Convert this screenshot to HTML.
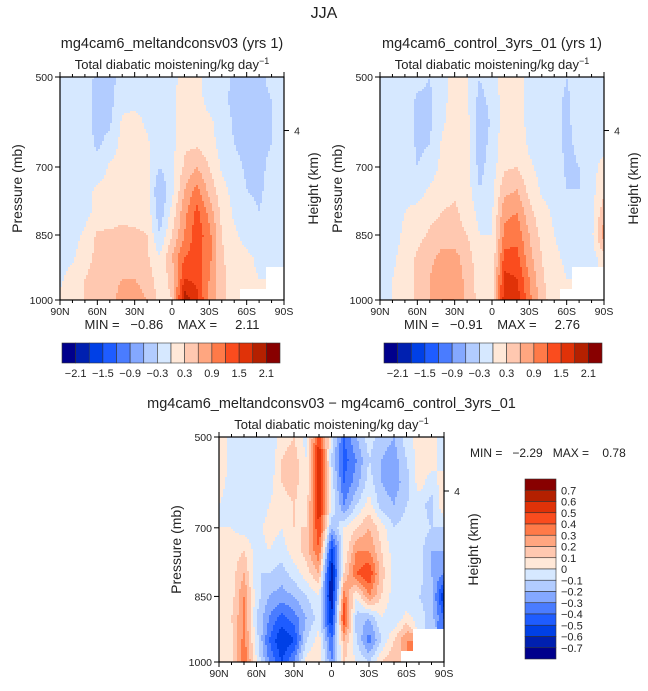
<!DOCTYPE html>
<html><head><meta charset="utf-8">
<style>
html,body{margin:0;padding:0;background:#fff;}
svg text{font-family:"Liberation Sans",sans-serif;fill:#222;}
</style></head>
<body>
<svg id="fig" width="648" height="686" viewBox="0 0 648 686" xmlns="http://www.w3.org/2000/svg">
<text x="324" y="18" font-size="16" text-anchor="middle">JJA</text>
</svg>
<script>
// ---- data ----
const latLabels = ["90N","60N","30N","0","30S","60S","90S"];
const pressureTicks = [500,700,850,1000];
const pressureLevels = [500,550,600,650,700,750,800,850,900,950,1000];
const colorsMain = ["#00008c","#0020b0","#0040e6","#1e5cff","#4a7cff","#84a8ff","#b2ccff","#d6e8ff","#ffe8d8","#ffc8b0","#ffa680","#ff7a48","#fa4c1e","#e03208","#b42000","#880000"];
const cbLabelsMain = ["-2.1","-1.5","-0.9","-0.3","0.3","0.9","1.5","2.1"];
const cbLabelsDiff = ["0.7","0.6","0.5","0.4","0.3","0.2","0.1","0","-0.1","-0.2","-0.3","-0.4","-0.5","-0.6","-0.7"];
const field1 = [
[-0.1,-0.1,-0.1,-0.4,-0.4,-0.2,-0.1,-0.1,-0.2,-0.1,0.1,0.05,-0.1,-0.1,-0.4,-0.4,-0.4,-0.2,-0.1],
[-0.1,-0.1,-0.2,-0.4,-0.4,-0.1,-0.1,-0.1,-0.1,-0.05,0.15,0.1,-0.1,-0.2,-0.4,-0.4,-0.4,-0.3,-0.1],
[-0.1,-0.1,-0.2,-0.4,-0.35,0.05,0.1,-0.05,-0.1,-0.1,0.2,0.15,0.05,-0.1,-0.35,-0.4,-0.4,-0.3,-0.1],
[-0.1,-0.1,-0.15,-0.35,-0.2,0.1,0.15,0.05,-0.2,-0.1,0.25,0.25,0.1,-0.1,-0.3,-0.4,-0.4,-0.3,-0.1],
[-0.1,-0.1,-0.1,-0.2,0.05,0.15,0.2,0.1,-0.3,-0.05,0.35,0.6,0.3,-0.05,-0.2,-0.35,-0.4,-0.2,-0.1],
[-0.1,-0.1,-0.1,0.05,0.1,0.2,0.2,0.15,-0.6,-0.1,0.6,1.0,0.5,0.1,-0.1,-0.3,-0.35,-0.2,-0.1],
[-0.1,-0.1,-0.1,0.1,0.15,0.25,0.2,0.2,-0.5,0.1,0.8,1.3,0.8,0.2,-0.05,-0.2,-0.3,-0.15,-0.1],
[-0.1,-0.1,0.05,0.35,0.35,0.35,0.35,0.3,-0.3,0.3,0.9,1.4,1.0,0.3,0.05,-0.1,-0.2,-0.1,-0.1],
[-0.1,-0.05,0.15,0.4,0.4,0.45,0.5,0.35,0.0,0.6,1.2,1.3,1.0,0.35,0.1,0.05,-0.05,-0.05,-0.1],
[-0.05,0.1,0.3,0.45,0.5,0.6,0.6,0.5,0.1,0.4,1.5,1.4,0.9,0.4,0.1,0.05,0.0,null,null],
[0.05,0.15,0.3,0.4,0.5,0.7,0.7,0.6,0.2,0.3,2.0,1.6,0.8,0.4,0.15,null,null,null,null]];
const field2 = [
[-0.1,-0.1,-0.1,-0.2,-0.3,-0.1,0.1,0.05,-0.3,-0.1,0.1,0.15,-0.1,-0.1,-0.1,-0.3,-0.1,-0.1,-0.1],
[-0.1,-0.1,-0.1,-0.35,-0.35,-0.1,0.15,0.05,-0.4,-0.2,0.15,0.15,-0.1,-0.1,-0.2,-0.35,-0.2,-0.1,-0.1],
[-0.1,-0.1,-0.1,-0.35,-0.35,-0.05,0.15,0.1,-0.5,-0.25,0.15,0.15,-0.1,-0.1,-0.2,-0.35,-0.2,-0.1,-0.1],
[-0.1,-0.1,-0.1,-0.35,-0.3,0.05,0.2,0.1,-0.45,-0.2,0.2,0.2,-0.05,-0.1,-0.2,-0.35,-0.25,-0.1,-0.1],
[-0.1,-0.1,-0.1,-0.3,-0.2,0.1,0.2,0.1,-0.4,-0.15,0.25,0.3,0.05,-0.1,-0.15,-0.35,-0.3,-0.1,0.1],
[-0.1,-0.1,-0.1,-0.15,0.05,0.2,0.25,0.15,-0.3,-0.1,0.5,0.6,0.2,-0.05,-0.1,-0.3,-0.3,-0.1,0.2],
[-0.1,-0.1,0.0,0.1,0.2,0.3,0.35,0.2,-0.1,-0.05,0.8,0.9,0.4,0.1,-0.05,-0.25,-0.2,-0.1,0.5],
[-0.1,-0.1,0.05,0.2,0.35,0.45,0.4,0.3,0.0,0.0,1.0,1.1,0.6,0.2,0.0,-0.1,-0.1,-0.1,0.8],
[-0.1,-0.05,0.1,0.35,0.5,0.7,0.7,0.45,0.1,0.0,1.3,1.3,0.7,0.3,0.05,-0.05,-0.1,-0.15,0.2],
[-0.1,0.0,0.1,0.4,0.6,0.9,0.8,0.5,0.15,0.05,1.6,1.5,0.9,0.35,0.1,0.0,null,null,null],
[-0.05,0.0,0.1,0.4,0.6,0.9,0.9,0.5,0.2,0.1,1.7,1.7,1.0,0.45,0.1,null,null,null,null]];
const field3 = [
[0.1,-0.05,-0.1,-0.05,-0.1,0.05,0.1,-0.05,0.5,-0.05,-0.4,-0.2,-0.05,-0.15,-0.2,-0.05,0.05,0.05,-0.05],
[0.1,-0.05,-0.1,-0.1,-0.1,0.1,0.15,0.0,0.6,-0.1,-0.45,-0.3,-0.1,-0.2,-0.25,-0.1,0.05,0.05,-0.05],
[0.05,-0.05,-0.1,-0.1,-0.05,0.1,0.15,0.0,0.65,-0.05,-0.4,-0.25,-0.05,-0.2,-0.25,-0.15,0.05,-0.05,0.05],
[0.0,-0.05,-0.1,-0.1,0.0,0.05,0.1,0.05,0.6,0.0,-0.3,-0.1,0.05,-0.15,-0.2,-0.1,-0.05,-0.15,0.1],
[0.0,0.0,-0.05,-0.05,0.05,0.0,0.1,0.1,0.5,-0.2,0.0,0.1,0.2,0.05,-0.1,-0.05,-0.05,-0.1,-0.1],
[0.0,0.05,0.1,-0.05,0.0,-0.05,0.05,0.15,0.4,-0.55,0.0,0.3,0.3,0.1,-0.05,-0.05,-0.05,-0.2,-0.2],
[0.0,0.05,0.2,-0.1,-0.1,-0.15,-0.05,0.05,0.2,-0.7,0.1,0.4,0.5,0.15,-0.05,-0.1,-0.05,-0.2,-0.3],
[0.0,0.05,0.3,-0.05,-0.2,-0.25,-0.2,-0.1,0.0,-0.7,0.35,0.0,0.3,0.1,-0.05,-0.1,-0.1,-0.15,-0.6],
[0.05,0.1,0.3,-0.1,-0.3,-0.45,-0.35,-0.2,-0.05,-0.6,0.5,-0.15,-0.2,0.0,-0.1,0.05,-0.05,-0.15,-0.4],
[0.1,0.05,0.35,-0.05,-0.4,-0.6,-0.5,-0.1,0.05,-0.4,0.2,-0.1,-0.35,-0.1,0.1,0.3,null,null,null],
[0.05,0.05,0.4,0.0,-0.3,-0.5,-0.3,0.05,0.1,-0.3,0.1,0.0,-0.1,0.1,0.2,null,null,null,null]];
const stats1 = ["-0.86","2.11"];
const stats2 = ["-0.91","2.76"];
const stats3 = ["-2.29","0.78"];

// ---- drawing ----
const NS="http://www.w3.org/2000/svg";
const svg=document.getElementById('fig');
function mk(tag,attrs,parent){const e=document.createElementNS(NS,tag);for(const k in attrs)e.setAttribute(k,attrs[k]);(parent||svg).appendChild(e);return e;}
function txt(x,y,s,size,anchor,parent){const t=mk('text',{x:x,y:y,'font-size':size,'text-anchor':anchor||'middle'},parent);t.textContent=s;return t;}
const tickFrac=[0,90/223,158/223,1];
function pFrac(p){for(let i=0;i<3;i++){if(p<=pressureTicks[i+1]){return tickFrac[i]+(p-pressureTicks[i])/(pressureTicks[i+1]-pressureTicks[i])*(tickFrac[i+1]-tickFrac[i]);}}return 1;}
function fracToP(f){for(let i=0;i<3;i++){if(f<=tickFrac[i+1]){return pressureTicks[i]+(f-tickFrac[i])/(tickFrac[i+1]-tickFrac[i])*(pressureTicks[i+1]-pressureTicks[i]);}}return 1000;}
function sample(field,ci,ri){const nc=field[0].length-1,nr=field.length-1;
  const c0=Math.min(Math.floor(ci),nc-1),r0=Math.min(Math.floor(ri),nr-1);const fx=ci-c0,fy=ri-r0;
  const a=field[r0][c0],b=field[r0][c0+1],c=field[r0+1][c0],d=field[r0+1][c0+1];
  if(a===null||b===null||c===null||d===null){
    const n=field[Math.round(ri)][Math.round(ci)]; if(n===null) return null;
    const vals=[a,b,c,d].map(v=>v===null?n:v);
    return vals[0]*(1-fx)*(1-fy)+vals[1]*fx*(1-fy)+vals[2]*(1-fx)*fy+vals[3]*fx*fy;}
  return a*(1-fx)*(1-fy)+b*fx*(1-fy)+c*(1-fx)*fy+d*fx*fy;}

function panel(name,x0,y0,w,h,field,step,title,stats,showStats){
  const g=mk('g',{});
  
  
  const cells=mk('g',{},g);
  
  
  const sx=2,sy=2;
  for(let py=0;py<h;py+=sy){
    const f=(py+sy/2)/h; const ri=(fracToP(f)-500)/50;
    let run=null;
    const flush=()=>{if(run){const r=mk('rect',{x:x0+run.s,y:y0+py,width:run.e-run.s,height:Math.min(sy,h-py)+0.3,fill:run.c},cells);
      
      }};
    for(let px=0;px<w;px+=sx){
      const ci=(px+sx/2)/w*(field[0].length-1);
      const v=sample(field,ci,ri);
      let col='#ffffff';
      if(v!==null){let k=Math.floor(v/step+1e-9)+8;k=Math.max(0,Math.min(15,k));col=colorsMain[k];}
      if(run&&run.c===col){run.e=Math.min(px+sx,w)+0.3;}else{flush();run={s:px,e:Math.min(px+sx,w)+0.3,c:col};}
    }
    flush();
  }
  const frame=mk('rect',{x:x0,y:y0,width:w,height:h,fill:'none',stroke:'#000','stroke-width':1.2},g);
  
  
  for(let i=0;i<=18;i++){const x=x0+i/18*w;const major=i%3===0;const L=major?5:3;
    mk('line',{x1:x,y1:y0+h,x2:x,y2:y0+h+L,stroke:'#000','stroke-width':1},g);
    mk('line',{x1:x,y1:y0,x2:x,y2:y0-L,stroke:'#000','stroke-width':1},g);}
  latLabels.forEach((s,i)=>{const t=txt(x0+i/6*w,y0+h+15,s,10.5,'middle',g);
    
    });
  pressureTicks.forEach(p=>{const y=y0+pFrac(p)*h;
    mk('line',{x1:x0,y1:y,x2:x0-5,y2:y,stroke:'#000','stroke-width':1},g);
    const t=txt(x0-7,y+4,String(p),10.5,'end',g);
    
    });
  const ry=y0+0.24*h;
  mk('line',{x1:x0+w,y1:ry,x2:x0+w+5,y2:ry,stroke:'#000','stroke-width':1},g);
  txt(x0+w+13,ry+4,'4',10.5,'middle',g);
  const yt=txt(0,0,'Pressure (mb)',14,'middle',g);
  yt.setAttribute('transform',`translate(${x0-38},${y0+h/2}) rotate(-90)`);
  
  
  const ht=txt(0,0,'Height (km)',14,'middle',g);
  ht.setAttribute('transform',`translate(${x0+w+34},${y0+h/2}) rotate(-90)`);
  
  
  const tt=txt(x0+w/2,y0-29,title,14.5,'middle',g);
  
  
  const st=mk('text',{x:x0+w/2,y:y0-8,'font-size':13,'text-anchor':'middle'},g);
  st.innerHTML='Total diabatic moistening/kg day<tspan dy="-5" font-size="9">−1</tspan>';
  
  
  if(showStats){const m=txt(x0+w/2,y0+h+29,`MIN =   ${stats[0].replace('-','−')}    MAX =     ${stats[1]}`,13,'middle',g);
    m.style.whiteSpace='pre';
    
    }
}
function hbar(name,x0,y0,w,h){
  const g=mk('g',{});
  
  
  const bw=w/16;
  colorsMain.forEach((c,i)=>{const r=mk('rect',{x:x0+i*bw,y:y0,width:bw,height:h,fill:c,stroke:'#333','stroke-width':0.6},g);
    
    });
  cbLabelsMain.forEach((s,i)=>{const t=txt(x0+(2*i+1)*bw,y0+h+14,s.replace('-','−'),11,'middle',g);
    
    });
}
panel('panel-meltandconsv03',60,77,224,223,field1,0.3,'mg4cam6_meltandconsv03 (yrs 1)',stats1,true);
panel('panel-control',380,77,224,223,field2,0.3,'mg4cam6_control_3yrs_01 (yrs 1)',stats2,true);
panel('panel-difference',219,437,225,225,field3,0.1,'mg4cam6_meltandconsv03 − mg4cam6_control_3yrs_01',stats3,false);
hbar('colorbar-left',62,343,218,20);
hbar('colorbar-right',384,343,218,20);
const ds=txt(470,457,`MIN =   ${stats3[0].replace('-','−')}   MAX =    ${stats3[1]}`,12,'start');
ds.style.whiteSpace='pre';


(function(){const g=mk('g',{});
  
  
  const x0=525,y0=479,w=31,h=180,bh=h/16;
  colorsMain.slice().reverse().forEach((c,i)=>{const r=mk('rect',{x:x0,y:y0+i*bh,width:w,height:bh,fill:c,stroke:'#333','stroke-width':0.6},g);
    
    });
  cbLabelsDiff.forEach((s,i)=>{const t=txt(x0+w+5,y0+(i+1)*bh+4,s.replace('-','−'),11,'start',g);
    
    });
})();
</script>
</body></html>
